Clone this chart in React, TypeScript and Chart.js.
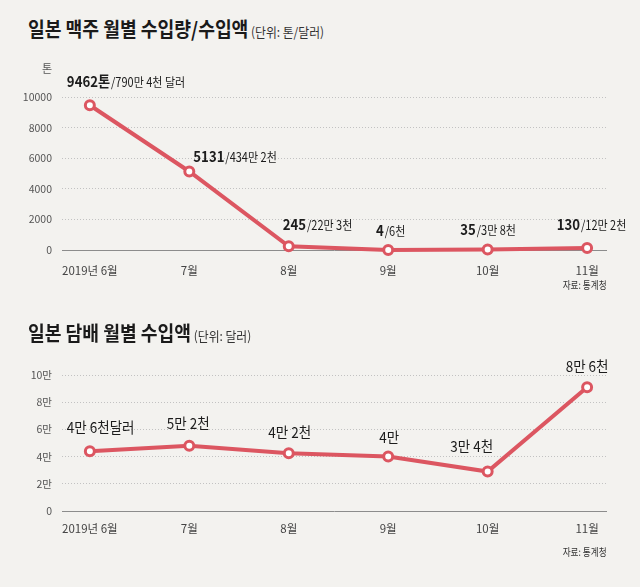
import React, { useEffect, useRef } from 'react';
import { Chart, registerables } from 'chart.js';

Chart.register(...registerables);

// ---------- data ----------
const months = ['2019년 6월', '7월', '8월', '9월', '10월', '11월'];

const beerTons = [9462, 5131, 245, 4, 35, 130];
const beerLabelMain = ['9462톤', '5131', '245', '4', '35', '130'];
const beerLabelSub = ['/790만 4천 달러', '/434만 2천', '/22만 3천', '/6천', '/3만 8천', '/12만 2천'];
const beerTickValues = [0, 2000, 4000, 6000, 8000, 10000];

const tobaccoDollars = [44000, 48000, 42500, 40000, 29000, 91000];
const tobaccoLabels = ['4만 6천달러', '5만 2천', '4만 2천', '4만', '3만 4천', '8만 6천'];
const tobaccoTickLabels = ['0', '2만', '4만', '6만', '8만', '10만'];

// ---------- styles / layout ----------
const RED = '#dc5661';
const BG = '#f3f2ef';
const FONT = "'Noto Sans CJK KR', 'Noto Sans', sans-serif";

type LabelPos = { align: 'left' | 'center'; dx: number; dy: number };

const beerLabelPos: LabelPos[] = [
  { align: 'left', dx: -23, dy: -23 },
  { align: 'left', dx: 4, dy: -14 },
  { align: 'left', dx: -6, dy: -21 },
  { align: 'center', dx: 2, dy: -19 },
  { align: 'center', dx: 0, dy: -19 },
  { align: 'center', dx: 4, dy: -23 },
];
const tobaccoLabelPos: LabelPos[] = [
  { align: 'left', dx: -23, dy: -23 },
  { align: 'center', dx: -1, dy: -22 },
  { align: 'center', dx: 1, dy: -20 },
  { align: 'center', dx: 1, dy: -19 },
  { align: 'center', dx: -16, dy: -25 },
  { align: 'center', dx: 0, dy: -20 },
];

function labelPlugin(
  id: string,
  mains: string[],
  subs: string[] | null,
  pos: LabelPos[],
  mainFont: string,
  subFont: string,
  squeeze: number
) {
  return {
    id,
    afterDatasetsDraw(chart: any) {
      const meta = chart.getDatasetMeta(0);
      const ctx = chart.ctx as CanvasRenderingContext2D;
      ctx.save();
      ctx.fillStyle = '#1c1c1c';
      ctx.textBaseline = 'alphabetic';
      ctx.textAlign = 'left';
      meta.data.forEach((pt: any, i: number) => {
        const p = pos[i];
        ctx.font = mainFont;
        const w1 = ctx.measureText(mains[i]).width;
        const sub = subs ? subs[i] : '';
        ctx.font = subFont;
        const w2 = sub ? ctx.measureText(sub).width : 0;
        const total = (w1 + w2) * squeeze;
        const left = p.align === 'left' ? pt.x + p.dx : pt.x + p.dx - total / 2;
        const base = pt.y + p.dy + 5;
        ctx.save();
        ctx.translate(left, base);
        ctx.scale(squeeze, 1);
        ctx.font = mainFont;
        ctx.fillText(mains[i], 0, 0);
        if (sub) {
          ctx.font = subFont;
          ctx.fillText(sub, w1 + 1, 0);
        }
        ctx.restore();
      });
      ctx.restore();
    },
  };
}

function baseConfig(
  values: number[],
  yMax: number,
  yStep: number,
  yLabel: (v: number) => string,
  padTop: number,
  xAxisHeight: number,
  xPad: number,
  plugin: any
): any {
  return {
    type: 'line',
    data: {
      datasets: [
        {
          data: values.map((v, i) => ({ x: i, y: v })),
          borderColor: RED,
          borderWidth: 4,
          pointRadius: 4.5,
          pointBorderWidth: 3,
          pointBackgroundColor: '#ffffff',
          pointBorderColor: RED,
          tension: 0,
          clip: false,
        },
      ],
    },
    options: {
      animation: false,
      responsive: false,
      maintainAspectRatio: false,
      devicePixelRatio: 1,
      layout: { padding: { top: padTop, right: 33, left: 0, bottom: 0 } },
      plugins: {
        legend: { display: false },
        tooltip: { enabled: false },
        title: { display: false },
      },
      scales: {
        x: {
          type: 'linear',
          min: -0.28,
          max: 5.2,
          grid: { display: false },
          border: { display: false },
          ticks: {
            stepSize: 1,
            includeBounds: false,
            autoSkip: false,
            maxRotation: 0,
            padding: xPad,
            color: '#444',
            font: { family: FONT, size: 11.5 },
            callback: (v: number) => (Number.isInteger(v) && months[v] !== undefined ? months[v] : ''),
          },
          afterFit: (s: any) => {
            s.height = xAxisHeight;
          },
        },
        y: {
          min: 0,
          max: yMax,
          ticks: {
            stepSize: yStep,
            padding: 10,
            color: '#555',
            font: { family: FONT, size: 10.5 },
            callback: (v: number) => yLabel(v),
          },
          grid: {
            drawTicks: false,
            lineWidth: 1,
            color: (c: any) => (c.tick && c.tick.value === 0 ? '#8c8c8c' : '#c2c2c2'),
          },
          border: {
            display: false,
            dash: (c: any) => (c.tick && c.tick.value === 0 ? [] : [1, 2]),
          },
          afterFit: (s: any) => {
            s.width = 62;
          },
        },
      },
    },
    plugins: [plugin],
  };
}

function LineCanvas({ top, height, config }: { top: number; height: number; config: () => any }) {
  const ref = useRef<HTMLCanvasElement | null>(null);
  useEffect(() => {
    if (!ref.current) return;
    const chart = new Chart(ref.current, config());
    return () => chart.destroy();
  }, []);
  return (
    <canvas
      ref={ref}
      width={640}
      height={height}
      style={{ position: 'absolute', left: 0, top, width: 640, height }}
    />
  );
}

const titleStyle = (top: number): React.CSSProperties => ({
  position: 'absolute',
  left: 28,
  top,
  height: 24,
  lineHeight: '24px',
  whiteSpace: 'nowrap',
  fontFamily: FONT,
  color: '#1a1a1a',
  transform: 'scaleX(0.91)',
  transformOrigin: 'left center',
});

const sourceStyle = (top: number): React.CSSProperties => ({
  position: 'absolute',
  right: 33,
  top,
  height: 14,
  lineHeight: '14px',
  fontSize: 10.5,
  fontFamily: FONT,
  color: '#333',
  whiteSpace: 'nowrap',
  transform: 'scaleX(0.82)',
  transformOrigin: 'right center',
});

export default function App() {
  const beerConfig = () =>
    baseConfig(
      beerTons,
      beerTickValues[beerTickValues.length - 1],
      beerTickValues[1] - beerTickValues[0],
      (v) => String(v),
      47,
      50,
      6,
      labelPlugin(
        'beerLabels',
        beerLabelMain,
        beerLabelSub,
        beerLabelPos,
        `bold 15px ${FONT}`,
        `12.5px ${FONT}`,
        0.88
      )
    );
  const tobaccoConfig = () =>
    baseConfig(
      tobaccoDollars,
      100000,
      20000,
      (v) => tobaccoTickLabels[Math.round(v / 20000)] ?? '',
      30,
      54,
      3,
      labelPlugin('tobaccoLabels', tobaccoLabels, null, tobaccoLabelPos, `15px ${FONT}`, `15px ${FONT}`, 0.9)
    );

  return (
    <div
      style={{
        position: 'absolute',
        left: 0,
        top: 0,
        width: 640,
        height: 587,
        background: BG,
        overflow: 'hidden',
      }}
    >
      <LineCanvas top={50} height={250} config={beerConfig} />
      <LineCanvas top={345} height={220} config={tobaccoConfig} />

      <div style={titleStyle(17)}>
        <span style={{ fontSize: 20, fontWeight: 700 }}>일본 맥주 월별 수입량/수입액</span>
        <span style={{ fontSize: 13, color: '#333' }}> (단위: 톤/달러)</span>
      </div>
      <div
        style={{
          position: 'absolute',
          left: 40,
          top: 61,
          width: 14,
          textAlign: 'center',
          fontSize: 11,
          lineHeight: '14px',
          fontFamily: FONT,
          color: '#555',
        }}
      >
        톤
      </div>
      <div style={sourceStyle(278)}>자료: 통계청</div>

      <div style={titleStyle(321)}>
        <span style={{ fontSize: 20, fontWeight: 700 }}>일본 담배 월별 수입액</span>
        <span style={{ fontSize: 13, color: '#333' }}> (단위: 달러)</span>
      </div>
      <div style={sourceStyle(545)}>자료: 통계청</div>
    </div>
  );
}
